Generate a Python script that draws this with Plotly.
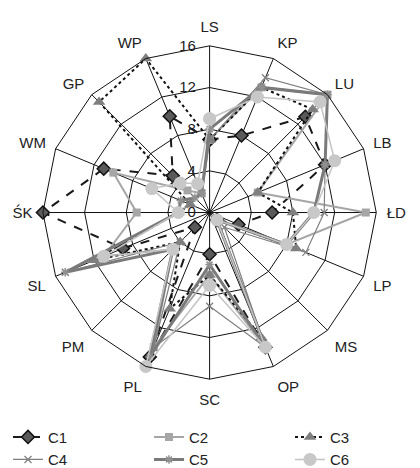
import plotly.graph_objects as go

categories = ["LS", "KP", "LU", "LB", "ŁD", "LP", "MS", "OP", "SC", "PL", "PM", "SL", "ŚK", "WM", "GP", "WP"]
C1 = [7, 8, 13, 12, 6, 3, 1, 14, 4, 15, 2, 9, 16, 11, 5, 10]
C2 = [7, 13, 16, 5, 15, 8, 1, 14, 6, 14, 5, 11, 7, 10, 3, 2]
C3 = [7, 13, 14, 5, 8, 9, 1, 13, 6, 10, 4, 12, 3, 2, 15, 16]
C4 = [7, 14, 16, 12, 11, 10, 2, 14, 9, 14, 4, 15, 3, 2, 2, 2]
C5 = [8, 13, 16, 12, 10, 8, 1, 14, 5, 15, 5, 15, 3, 3, 2, 2]
C6 = [9, 12, 15, 13, 10, 8, 1, 14, 7, 16, 5, 11, 3, 6, 4, 3]
series_names = ["C1", "C2", "C3", "C4", "C5", "C6"]
radial_ticks = [0, 4, 8, 12, 16]

styles = {
    "C1": dict(line=dict(color="#1a1a1a", width=2, dash="dash"),
               marker=dict(symbol="diamond", size=10, color="#5a5a5a", line=dict(color="#111111", width=1.5))),
    "C2": dict(line=dict(color="#a6a6a6", width=2),
               marker=dict(symbol="square", size=8, color="#a6a6a6")),
    "C3": dict(line=dict(color="#111111", width=2, dash="dot"),
               marker=dict(symbol="triangle-up", size=11, color="#7f7f7f")),
    "C4": dict(line=dict(color="#808080", width=1.2),
               marker=dict(symbol="x-thin", size=7, color="#808080", line=dict(color="#808080", width=1.3))),
    "C5": dict(line=dict(color="#7a7a7a", width=3),
               marker=dict(symbol="asterisk", size=7, color="#909090", line=dict(color="#909090", width=1.5))),
    "C6": dict(line=dict(color="#c4c4c4", width=1.5),
               marker=dict(symbol="circle", size=13, color="#c8c8c8")),
}

fig = go.Figure()
for name, vals in zip(series_names, [C1, C2, C3, C4, C5, C6]):
    fig.add_trace(go.Scatterpolar(
        r=vals + vals[:1], theta=categories + categories[:1],
        mode="lines+markers", name=name, **styles[name]))

font_family = "Liberation Sans, Arial, sans-serif"
fig.update_layout(
    width=420, height=468,
    margin=dict(l=0, r=0, t=0, b=0),
    paper_bgcolor="white", plot_bgcolor="white",
    font=dict(family=font_family, size=15, color="#222222"),
    polar=dict(
        domain=dict(x=[0.07, 0.89], y=[0.186, 0.917]),
        bgcolor="white",
        gridshape="linear",
        angularaxis=dict(direction="clockwise", rotation=90, categoryorder="array",
                         categoryarray=categories,
                         showline=True, linecolor="#111111", linewidth=1,
                         gridcolor="#111111", gridwidth=1,
                         ticks="outside", ticklen=7, tickcolor="rgba(0,0,0,0)",
                         tickfont=dict(size=15, family=font_family, color="#222222")),
        radialaxis=dict(range=[0, 16], tickvals=radial_ticks, angle=90, tickangle=90,
                        showline=False, gridcolor="#111111", gridwidth=1,
                        ticks="outside", ticklen=8, tickcolor="rgba(0,0,0,0)",
                        side="counterclockwise",
                        tickfont=dict(size=15, family=font_family, color="#222222")),
    ),
    legend=dict(orientation="h", x=0.02, y=0.095, xanchor="left", yanchor="top",
                entrywidth=96, entrywidthmode="pixels",
                font=dict(size=15, family=font_family, color="#222222"),
                tracegroupgap=0, itemwidth=30),
)
fig.write_html("out.html")
